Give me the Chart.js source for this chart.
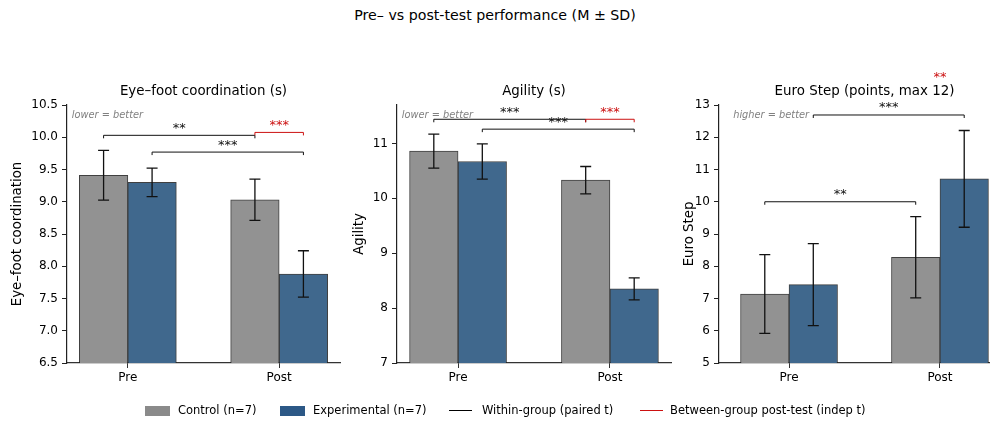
<!DOCTYPE html>
<html>
<head>
<meta charset="utf-8">
<script src="https://cdn.jsdelivr.net/npm/chart.js@4/dist/chart.umd.min.js"></script>
<style>
  html, body { margin: 0; padding: 0; width: 990px; height: 423px; overflow: hidden; background: #fff; font-family: 'DejaVu Sans', sans-serif; }
  canvas { position: absolute; top: 0; }
  #title { position: absolute; left: 0; width: 990px; top: 7px; text-align: center; font-size: 14.2px; color: #000; }
  .lg { position: absolute; font-size: 11.5px; color: #000; top: 402px; line-height: 16px; white-space: nowrap; }
  .box { position: absolute; top: 406px; width: 25px; height: 10px; }
  .ln { position: absolute; top: 409.5px; width: 23px; height: 0; border-top: 1.5px solid; }
</style>
</head>
<body>
<div id="title">Pre– vs post-test performance (M ± SD)</div>
<canvas id="c1" width="342" height="423" style="left:8px;width:342px;height:423px"></canvas>
<canvas id="c2" width="330" height="423" style="left:350px;width:330px;height:423px"></canvas>
<canvas id="c3" width="340" height="423" style="left:680px;width:340px;height:423px"></canvas>

<div class="box" style="left:145px;background:#8a8a8a"></div>
<div class="lg" style="left:178px">Control (n=7)</div>
<div class="box" style="left:280px;background:#2c5886"></div>
<div class="lg" style="left:313px">Experimental (n=7)</div>
<div class="ln" style="left:449px;border-color:#000"></div>
<div class="lg" style="left:482px">Within-group (paired t)</div>
<div class="ln" style="left:640px;border-color:#cc1111"></div>
<div class="lg" style="left:670px">Between-group post-test (indep t)</div>

<script>
// ---------- DATA ----------
const categories = ['Pre', 'Post'];

const eyeCtrlMean = [9.41, 9.03];
const eyeCtrlSD   = [0.385, 0.32];
const eyeExpMean  = [9.30, 7.88];
const eyeExpSD    = [0.22, 0.36];

const agiCtrlMean = [10.86, 10.33];
const agiCtrlSD   = [0.31, 0.25];
const agiExpMean  = [10.67, 8.35];
const agiExpSD    = [0.32, 0.20];

const euroCtrlMean = [7.14, 8.28];
const euroCtrlSD   = [1.22, 1.26];
const euroExpMean  = [7.43, 10.71];
const euroExpSD    = [1.27, 1.50];

const eyeTicks  = [6.5, 7.0, 7.5, 8.0, 8.5, 9.0, 9.5, 10.0, 10.5];
const agiTicks  = [7, 8, 9, 10, 11];
const euroTicks = [5, 6, 7, 8, 9, 10, 11, 12, 13];

// significance brackets: [group, series] endpoints, level in data units
const eyeBrackets = [
  { a: [0, 0], b: [1, 0], level: 10.03, label: '**',  kind: 'within' },
  { a: [1, 0], b: [1, 1], level: 10.075, label: '***', kind: 'between' },
  { a: [0, 1], b: [1, 1], level: 9.77, label: '***', kind: 'within' }
];
const agiBrackets = [
  { a: [0, 0], b: [1, 0], level: 11.44, label: '***', kind: 'within' },
  { a: [1, 0], b: [1, 1], level: 11.44, label: '***', kind: 'between' },
  { a: [0, 1], b: [1, 1], level: 11.26, label: '***', kind: 'within' }
];
const euroBrackets = [
  { a: [0, 0], b: [1, 0], level: 10.0,  label: '**',  kind: 'within' },
  { a: [0, 1], b: [1, 1], level: 12.69, label: '***', kind: 'within' },
  { a: [1, 0], b: [1, 1], level: 13.65, label: '**',  kind: 'between' }
];

// ---------- STYLE ----------
const FONT = "'DejaVu Sans', sans-serif";
const CTRL_FILL = 'rgb(146,146,146)';
const EXP_FILL = 'rgb(64,104,141)';
const EDGE = 'rgba(30,30,30,0.85)';
const RED = '#cc1111';

const errorBarPlugin = {
  id: 'errbars',
  afterDatasetsDraw(chart) {
    const ctx = chart.ctx, y = chart.scales.y;
    ctx.save();
    ctx.strokeStyle = '#111';
    ctx.lineWidth = 1.3;
    chart.data.datasets.forEach((ds, di) => {
      const meta = chart.getDatasetMeta(di);
      meta.data.forEach((el, i) => {
        const m = ds.data[i].y, sd = ds.sd[i];
        const yt = y.getPixelForValue(m + sd), yb = y.getPixelForValue(m - sd);
        ctx.beginPath();
        ctx.moveTo(el.x, yt); ctx.lineTo(el.x, yb);
        ctx.moveTo(el.x - 5.5, yt); ctx.lineTo(el.x + 5.5, yt);
        ctx.moveTo(el.x - 5.5, yb); ctx.lineTo(el.x + 5.5, yb);
        ctx.stroke();
      });
    });
    ctx.restore();
  }
};

const annotPlugin = {
  id: 'annots',
  afterDraw(chart, args, opts) {
    const ctx = chart.ctx, y = chart.scales.y, x = chart.scales.x, area = chart.chartArea;
    ctx.save();
    // subplot title
    ctx.fillStyle = '#000';
    ctx.font = '13.4px ' + FONT;
    ctx.textAlign = 'center';
    ctx.textBaseline = 'middle';
    ctx.fillText(opts.title, (area.left + area.right) / 2, area.top - 13);
    // note
    ctx.fillStyle = '#808080';
    ctx.font = 'italic 9.8px ' + FONT;
    ctx.textAlign = 'left';
    ctx.fillText(opts.note, x.getPixelForValue(-0.37), area.top + 0.04 * (area.bottom - area.top));
    // brackets
    opts.brackets.forEach(br => {
      const xa = chart.getDatasetMeta(br.a[1]).data[br.a[0]].x;
      const xb = chart.getDatasetMeta(br.b[1]).data[br.b[0]].x;
      const py = y.getPixelForValue(br.level);
      const col = br.kind === 'between' ? RED : '#111';
      ctx.save();
      ctx.beginPath();
      ctx.rect(area.left, area.top, area.right - area.left, area.bottom - area.top);
      ctx.clip();
      ctx.strokeStyle = col;
      ctx.lineWidth = 1;
      ctx.beginPath();
      ctx.moveTo(xa, py + 3); ctx.lineTo(xa, py); ctx.lineTo(xb, py); ctx.lineTo(xb, py + 3);
      ctx.stroke();
      ctx.restore();
      ctx.fillStyle = col;
      ctx.font = '13px ' + FONT;
      ctx.textAlign = 'center';
      ctx.textBaseline = 'alphabetic';
      ctx.fillText(br.label, (xa + xb) / 2, py - 3.5);
    });
    ctx.restore();
  }
};

function makePanel(id, cfg) {
  return new Chart(document.getElementById(id), {
    type: 'bar',
    data: {
      datasets: [
        { label: 'Control (n=7)', data: categories.map((c, i) => ({ x: i, y: cfg.ctrlMean[i] })), sd: cfg.ctrlSD,
          backgroundColor: CTRL_FILL, borderColor: EDGE, borderWidth: 1, barThickness: 48.5 },
        { label: 'Experimental (n=7)', data: categories.map((c, i) => ({ x: i, y: cfg.expMean[i] })), sd: cfg.expSD,
          backgroundColor: EXP_FILL, borderColor: EDGE, borderWidth: 1, barThickness: 48.5 }
      ]
    },
    options: {
      responsive: false,
      animation: false,
      devicePixelRatio: 1,
      layout: { padding: { left: 0, right: cfg.padRight, top: 105, bottom: 30 } },
      plugins: {
        legend: { display: false },
        tooltip: { enabled: false },
        annots: { title: cfg.title, note: cfg.note, brackets: cfg.brackets }
      },
      scales: {
        x: {
          type: 'linear', min: cfg.xmin, max: cfg.xmax, offset: false,
          grid: { display: true, offset: false, drawOnChartArea: false, drawTicks: true, tickLength: 5, color: '#333', tickWidth: 1 },
          border: { display: true, color: '#333', width: 1.2 },
          ticks: { color: '#000', font: { family: FONT, size: 12 }, padding: 3, maxRotation: 0, autoSkip: false,
                   callback: v => categories[v] },
          afterBuildTicks: s => { s.ticks = categories.map((c, i) => ({ value: i })); },
          afterFit: s => { s.height = 30; }
        },
        y: {
          type: 'linear', min: cfg.ymin, max: cfg.ymax,
          grid: { display: true, drawOnChartArea: false, drawTicks: true, tickLength: 5, color: '#222', tickWidth: 1 },
          border: { display: true, color: '#222', width: 1.2 },
          ticks: { color: '#000', font: { family: FONT, size: 12 }, padding: 4,
                   callback: v => v.toFixed(cfg.dec) },
          afterBuildTicks: s => { s.ticks = cfg.ticks.map(v => ({ value: v })); },
          title: { display: true, text: cfg.ylabel, color: '#000', font: { family: FONT, size: 13.3 }, padding: { top: 2, bottom: 0 } },
          afterFit: s => { s.width = cfg.yw; }
        }
      }
    },
    plugins: [errorBarPlugin, annotPlugin]
  });
}

makePanel('c1', {
  ctrlMean: eyeCtrlMean, ctrlSD: eyeCtrlSD, expMean: eyeExpMean, expSD: eyeExpSD,
  ticks: eyeTicks, ymin: 6.5, ymax: 10.5, dec: 1, xmin: -0.402, xmax: 1.402,
  ylabel: 'Eye–foot coordination', title: 'Eye–foot coordination (s)', note: 'lower = better',
  brackets: eyeBrackets, yw: 59, padRight: 10
});
makePanel('c2', {
  ctrlMean: agiCtrlMean, ctrlSD: agiCtrlSD, expMean: agiExpMean, expSD: agiExpSD,
  ticks: agiTicks, ymin: 7, ymax: 11.7, dec: 0, xmin: -0.402, xmax: 1.402,
  ylabel: 'Agility', title: 'Agility (s)', note: 'lower = better',
  brackets: agiBrackets, yw: 47, padRight: 9
});
makePanel('c3', {
  ctrlMean: euroCtrlMean, ctrlSD: euroCtrlSD, expMean: euroExpMean, expSD: euroExpSD,
  ticks: euroTicks, ymin: 5, ymax: 13, dec: 0, xmin: -0.464, xmax: 1.464,
  ylabel: 'Euro Step', title: 'Euro Step (points, max 12)', note: 'higher = better',
  brackets: euroBrackets, yw: 39, padRight: 10
});
</script>
</body>
</html>
